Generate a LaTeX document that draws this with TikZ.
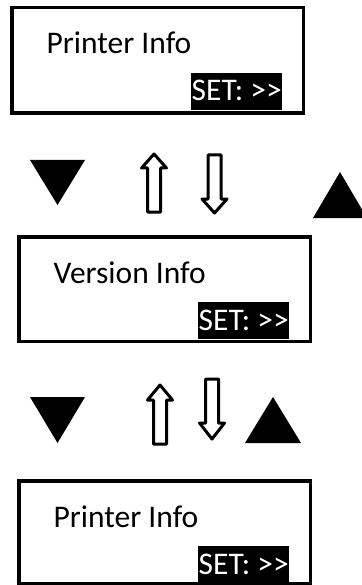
\documentclass[tikz,border=0pt]{standalone}
\usepackage{fontspec}
\setmainfont{Carlito}
\usepackage{tikz}

% hollow block arrows (x = centre, apex/top, y of the wings, end)
\newcommand{\navup}[4]{%
    \draw[navarrow] (#1,#2) -- (#1+12.5,#3) -- (#1+6.5,#3) -- (#1+6.5,#4)
        -- (#1-6.5,#4) -- (#1-6.5,#3) -- (#1-12.5,#3) -- cycle;}
\newcommand{\navdown}[4]{%
    \draw[navarrow] (#1,#4) -- (#1+12.5,#3) -- (#1+6.5,#3) -- (#1+6.5,#2)
        -- (#1-6.5,#2) -- (#1-6.5,#3) -- (#1-12.5,#3) -- cycle;}

\begin{document}
\begin{tikzpicture}[x=1pt, y=-1pt,
        screen/.style={draw, line width=3.5pt, minimum width=291.5pt, inner sep=0pt, outer sep=0pt},
        menutext/.style={inner sep=0pt, font=\fontsize{31.5}{32}\selectfont},
        setbox/.style={fill=black, text=white, inner xsep=0.5pt, inner ysep=0pt,
            text height=28pt, text depth=9pt, font=\fontsize{31.5}{32}\selectfont},
        navarrow/.style={line width=3pt, line join=round, fill=white},
        key/.style={fill=black}
    ]
        \useasboundingbox (0,0) rectangle (361,585);
        % Draw the three screens
        \foreach \n/\l/\t/\h/\lbl in {1/10/6/109/Printer Info, 2/17/235/108/Version Info, 3/17/479/106/Printer Info} {
            \node[screen, minimum height=\h pt-3.5pt, anchor=north west] (scr\n) at (\l+1.75, \t+1.75) {};
            \node[menutext, anchor=base west] (txt\n) at (\l+36.5, \t+48) {\lbl};
            \node[setbox, anchor=base west] (set\n) at (\l+181, \t+95) {SET: >{}>};
        }
        % Keys between screen 1 and 2
        \fill[key] (30,160) -- (85,160) -- (57.5,205) -- cycle;
        \navup{154}{154}{168}{212}
        \navdown{214.5}{155}{199}{213}
        \fill[key] (313,218) -- (367,218) -- (340,172) -- cycle;
        % Keys between screen 2 and 3
        \fill[key] (30,397) -- (85,397) -- (57.5,443) -- cycle;
        \navup{160}{385}{400}{444}
        \navdown{212}{379}{423}{439}
        \fill[key] (245,443) -- (301,443) -- (273,397) -- cycle;
    \end{tikzpicture}
\end{document}
